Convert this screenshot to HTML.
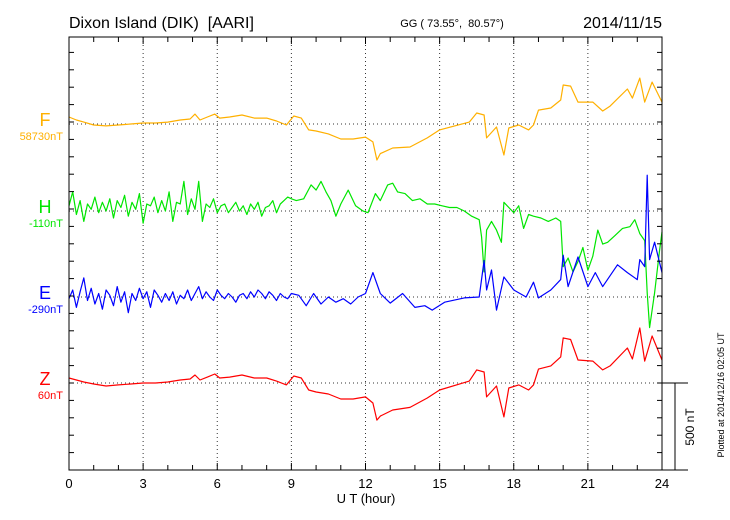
<!DOCTYPE html>
<html><head><meta charset="utf-8"><style>
body{margin:0;background:#fff;}
svg{display:block;font-family:"Liberation Sans",sans-serif;}
text{white-space:pre;}
</style></head><body>
<svg id="chart" width="730" height="520" viewBox="0 0 730 520" xmlns="http://www.w3.org/2000/svg">
<text x="69" y="28" font-size="16" xml:space="preserve">Dixon Island (DIK)&#160;&#160;[AARI]</text>
<text x="452" y="27" font-size="11" text-anchor="middle" xml:space="preserve">GG ( 73.55°,&#160;&#160;80.57°)</text>
<text x="662" y="28" font-size="16" text-anchor="end">2014/11/15</text>
<text x="366" y="503" font-size="13" text-anchor="middle">U T (hour)</text>
<text transform="translate(724,395) rotate(-90)" font-size="9" text-anchor="middle">Plotted at 2014/12/16 02:05 UT</text>
<text transform="translate(694,427) rotate(-90)" font-size="12" text-anchor="middle">500 nT</text>
<g id="grid"></g>
<g id="series"></g>
<g id="axes"></g>
</svg>
<script>
const xTickLabels=["0","3","6","9","12","15","18","21","24"];
const seriesNames=["F","H","E","Z"];
const seriesBaseLabels=["58730nT","-110nT","-290nT","60nT"];
const seriesColors=["#ffb000","#00e600","#0000ff","#ff0000"];
const fTimes=[0,0.3,0.6,1,1.5,2,2.5,3,3.5,4,4.5,4.9,5.1,5.3,5.6,5.9,6.1,6.5,7,7.5,8,8.4,8.8,9.1,9.4,9.7,10,10.5,11,11.5,12,12.3,12.46,12.6,13.1,13.8,14.5,15,16.2,16.5,16.8,16.9,17.3,17.6,17.8,18.2,18.6,18.8,19,19.5,19.9,20.0,20.3,20.6,21.2,21.6,21.9,22.6,22.8,23.1,23.3,23.6,24];
const fValues=[40,23,11,-6,-11,-6,0,6,6,11,23,29,57,23,40,57,34,40,52,34,34,17,-6,46,34,-34,-40,-57,-86,-86,-75,-103,-207,-170,-138,-132,-80,-34,11,63,52,-80,-17,-178,-23,-6,-34,-6,80,92,138,224,218,126,126,75,103,201,149,264,126,241,126];
const zTimes=[0,0.3,0.6,1,1.5,2,2.5,3,3.5,4,4.5,4.9,5.1,5.3,5.6,5.9,6.1,6.5,7,7.5,8,8.4,8.8,9.1,9.4,9.7,10,10.5,11,11.5,12,12.3,12.46,12.6,13.1,13.8,14.5,15,16.2,16.5,16.8,16.9,17.3,17.6,17.8,18.2,18.6,18.8,19,19.5,19.9,20.0,20.3,20.6,21.2,21.6,21.9,22.6,22.8,23.1,23.3,23.6,24];
const zValues=[29,17,6,-6,-17,-11,-6,0,0,6,17,23,46,17,34,52,29,34,46,29,29,11,-11,40,29,-40,-52,-63,-92,-92,-80,-115,-213,-190,-155,-140,-86,-40,11,75,63,-80,-17,-195,-29,-11,-40,-11,80,98,150,259,250,132,126,75,98,201,138,316,126,270,132];
const hTimes=[0,0.15,0.3,0.45,0.6,0.75,0.9,1.05,1.2,1.35,1.5,1.65,1.8,1.95,2.1,2.25,2.4,2.55,2.7,2.85,3,3.15,3.3,3.45,3.6,3.75,3.9,4.05,4.2,4.35,4.5,4.65,4.8,4.95,5.1,5.25,5.4,5.55,5.7,5.85,6,6.15,6.3,6.45,6.6,6.75,6.9,7.05,7.2,7.35,7.5,7.65,7.8,7.95,8.1,8.25,8.4,8.55,8.7,8.85,9,
9.2,9.5,9.8,10.0,10.2,10.4,10.6,10.8,11,11.3,11.6,11.9,12.1,12.4,12.6,12.9,13.1,13.3,13.6,13.9,14.2,14.5,14.8,15.1,15.4,15.7,16,16.3,16.6,16.7,16.8,16.9,17.1,17.3,17.5,17.6,17.8,18,18.2,18.4,18.6,18.8,19.1,19.4,19.7,19.9,20.0,20.2,20.4,20.6,20.8,21.0,21.2,21.4,21.6,21.8,22.1,22.4,22.7,22.9,23.1,23.3,23.4,23.5,23.7,23.9,24];
const hValues=[30,110,-20,60,-60,40,10,80,-10,50,0,70,-40,60,20,90,-30,50,10,100,-70,40,30,80,-10,60,0,110,-60,50,40,170,-20,70,10,170,-60,40,20,70,-10,30,40,-10,20,50,0,30,-20,40,10,50,-30,20,30,60,-10,40,60,80,70,
60,70,150,120,170,110,60,-30,40,120,30,0,-10,100,60,150,160,110,100,60,70,40,40,30,20,20,0,-30,-50,-150,-350,-110,-60,-110,-180,50,20,-10,30,-100,-20,-30,-40,-60,-40,-60,-320,-270,-350,-290,-210,-340,-260,-110,-190,-180,-140,-100,-90,-50,-130,-170,-470,-670,-470,-230,-120];
const eTimes=[0,0.15,0.3,0.45,0.6,0.75,0.9,1.05,1.2,1.35,1.5,1.65,1.8,1.95,2.1,2.25,2.4,2.55,2.7,2.85,3,3.15,3.3,3.45,3.6,3.75,3.9,4.05,4.2,4.35,4.5,4.65,4.8,4.95,5.1,5.25,5.4,5.55,5.7,5.85,6,6.15,6.3,6.45,6.6,6.75,6.9,7.05,7.2,7.35,7.5,7.65,7.8,7.95,8.1,8.25,8.4,8.55,8.7,8.85,9,
9.3,9.6,9.9,10.2,10.5,10.8,11.1,11.4,11.7,12.0,12.3,12.6,13,13.5,14,14.4,14.7,15.2,16,16.6,16.8,16.9,17.1,17.3,17.6,18,18.5,18.8,19,19.5,19.9,20,20.2,20.6,21,21.3,21.6,22.2,22.6,23,23.1,23.3,23.4,23.5,23.7,24];
const eValues=[-10,40,-60,30,110,-20,50,-40,20,-70,40,10,-50,60,-30,30,-90,20,-20,50,-10,30,-60,40,10,-30,20,-20,30,-40,10,-10,40,-20,20,60,-10,30,0,-20,40,10,-10,20,0,-30,10,20,-10,30,0,40,20,-10,30,10,-20,20,0,-10,20,
10,-50,20,-40,0,-30,-10,-40,0,20,140,20,-35,20,-60,-50,-75,-30,-5,0,210,40,155,-75,115,40,0,85,-5,40,100,240,60,230,60,140,60,185,140,100,215,175,700,215,315,140];
const seriesTimes=[fTimes,hTimes,eTimes,zTimes];
const seriesValues=[fValues,hValues,eValues,zValues];

const NS="http://www.w3.org/2000/svg";
const X0=69,X1=662,Y0=37,Y1=470;
const baselines=[124,211,297,383];
const PX_PER_NT=87/500;
function xScale(h){return X0+(X1-X0)*h/24;}
function yScale(i,v){return baselines[i]-v*PX_PER_NT;}
function mk(tag,attrs,parent){const e=document.createElementNS(NS,tag);for(const k in attrs)e.setAttribute(k,attrs[k]);parent.appendChild(e);return e;}
const grid=document.getElementById('grid'),axes=document.getElementById('axes'),series=document.getElementById('series');
for(let i=1;i<8;i++){const x=xScale(i*3);
 const l=mk('line',{x1:x,y1:Y0,x2:x,y2:Y1,stroke:'#333','stroke-width':1,'stroke-dasharray':'1,3'},grid);
 
 }
for(let i=0;i<4;i++){
 const l=mk('line',{x1:X0,y1:baselines[i],x2:X1,y2:baselines[i],stroke:'#333','stroke-width':1,'stroke-dasharray':'1,3'},grid);
 
 }
for(let i=0;i<4;i++){
 const t=seriesTimes[i],v=seriesValues[i];
 let d='';for(let j=0;j<t.length;j++){d+=(j?'L':'M')+xScale(t[j]).toFixed(1)+','+yScale(i,v[j]).toFixed(1);}
 const p=mk('path',{d:d,fill:'none',stroke:seriesColors[i],'stroke-width':1.2,'stroke-linejoin':'round'},series);
 
 
 const a=mk('text',{x:45,y:baselines[i]+2,'font-size':18,fill:seriesColors[i],'text-anchor':'middle'},axes);
 a.textContent=seriesNames[i];
 
 
 const b=mk('text',{x:63,y:baselines[i]+16,'font-size':11,fill:seriesColors[i],'text-anchor':'end'},axes);
 b.textContent=seriesBaseLabels[i];
 
 
}
const fr=mk('rect',{x:X0,y:Y0,width:X1-X0,height:Y1-Y0,fill:'none',stroke:'#000','stroke-width':1},axes);


for(let h=0;h<=24;h++){const x=xScale(h),len=(h%3===0)?7:5;
 const a=mk('line',{x1:x,y1:Y1,x2:x,y2:Y1-len,stroke:'#000'},axes);
 
 
 const b=mk('line',{x1:x,y1:Y0,x2:x,y2:Y0+len,stroke:'#000'},axes);
 
 }
xTickLabels.forEach((s,i)=>{const t=mk('text',{x:xScale(i*3),y:488,'font-size':13,'text-anchor':'middle'},axes);t.textContent=s;
 
 });
for(let k=0;k<=25;k++){const y=Y1-k*87/5;if(y<Y0-0.5)break;
 const a=mk('line',{x1:X0,y1:y,x2:X0+5,y2:y,stroke:'#000'},axes);
 
 
 const b=mk('line',{x1:X1,y1:y,x2:X1-5,y2:y,stroke:'#000'},axes);
 
 }
const s1=mk('line',{x1:X1,y1:383,x2:688,y2:383,stroke:'#000'},axes);


const s2=mk('line',{x1:675,y1:383,x2:675,y2:Y1,stroke:'#000'},axes);


const s3=mk('line',{x1:X1,y1:Y1,x2:688,y2:Y1,stroke:'#000'},axes);


</script>
</body></html>
